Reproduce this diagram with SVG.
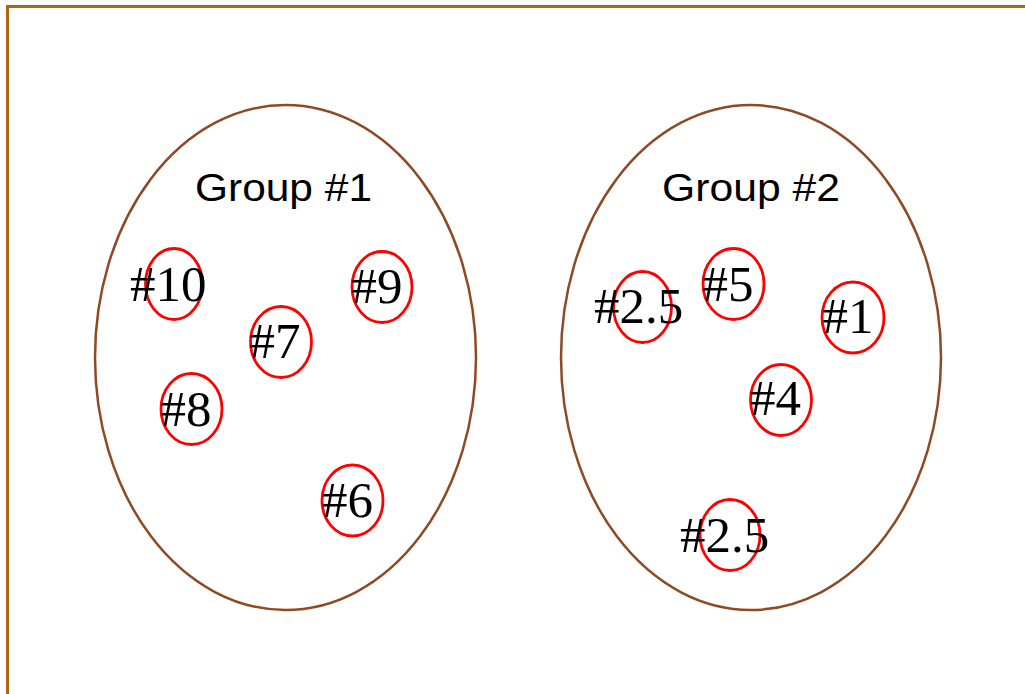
<svg xmlns="http://www.w3.org/2000/svg" width="1025" height="694" viewBox="0 0 1025 694">
<style>
.frame{fill:none;stroke:#AE6612;stroke-width:3}
.grp{fill:none;stroke:#8E4A24;stroke-width:2.5}
.mark{fill:none;stroke:#FF0000;stroke-width:2.8}
.lbl{font-family:"Liberation Serif","DejaVu Serif",serif;font-size:51px;fill:#000}
.title{font-family:"Liberation Sans","Open Sans",sans-serif;font-size:38px;fill:#000}
</style>
<rect width="1025" height="694" fill="#fff"/>
<rect class="frame" x="7.5" y="6.5" width="1100" height="800"/>
<g id="group1">
<ellipse class="grp" cx="285.5" cy="357.5" rx="190.5" ry="252.5"/>
<text class="title" x="195" y="200.5" textLength="177" lengthAdjust="spacingAndGlyphs">Group #1</text>
</g>
<g id="group2">
<ellipse class="grp" cx="751" cy="357.5" rx="190" ry="252.5"/>
<text class="title" x="662" y="200.5" textLength="178" lengthAdjust="spacingAndGlyphs">Group #2</text>
</g>
<g id="n10"><ellipse class="mark" cx="174" cy="284" rx="28.5" ry="35.5"/><text class="lbl" x="130" y="301">#10</text></g>
<g id="n9"><ellipse class="mark" cx="382" cy="287" rx="30" ry="35.5"/><text class="lbl" x="351.5" y="302.5">#9</text></g>
<g id="n7"><ellipse class="mark" cx="281" cy="342" rx="30.5" ry="35.5"/><text class="lbl" x="249.5" y="358">#7</text></g>
<g id="n8"><ellipse class="mark" cx="191.5" cy="409" rx="30.5" ry="35.5"/><text class="lbl" x="160.5" y="425.5">#8</text></g>
<g id="n6"><ellipse class="mark" cx="352.5" cy="500.5" rx="30.5" ry="35.5"/><text class="lbl" x="322" y="517">#6</text></g>
<g id="n25a"><ellipse class="mark" cx="642.5" cy="307" rx="29" ry="35.5"/><text class="lbl" x="594" y="323">#2.5</text></g>
<g id="n5"><ellipse class="mark" cx="733.5" cy="284" rx="30.5" ry="35.5"/><text class="lbl" x="702.5" y="300.5">#5</text></g>
<g id="n1"><ellipse class="mark" cx="853" cy="317.5" rx="31" ry="35.5"/><text class="lbl" x="822.5" y="333">#1</text></g>
<g id="n4"><ellipse class="mark" cx="781" cy="400" rx="30.5" ry="35.5"/><text class="lbl" x="750" y="415">#4</text></g>
<g id="n25b"><ellipse class="mark" cx="730" cy="535" rx="30" ry="35.5"/><text class="lbl" x="680" y="551.5">#2.5</text></g>
<g id="connectors"/>
</svg>
